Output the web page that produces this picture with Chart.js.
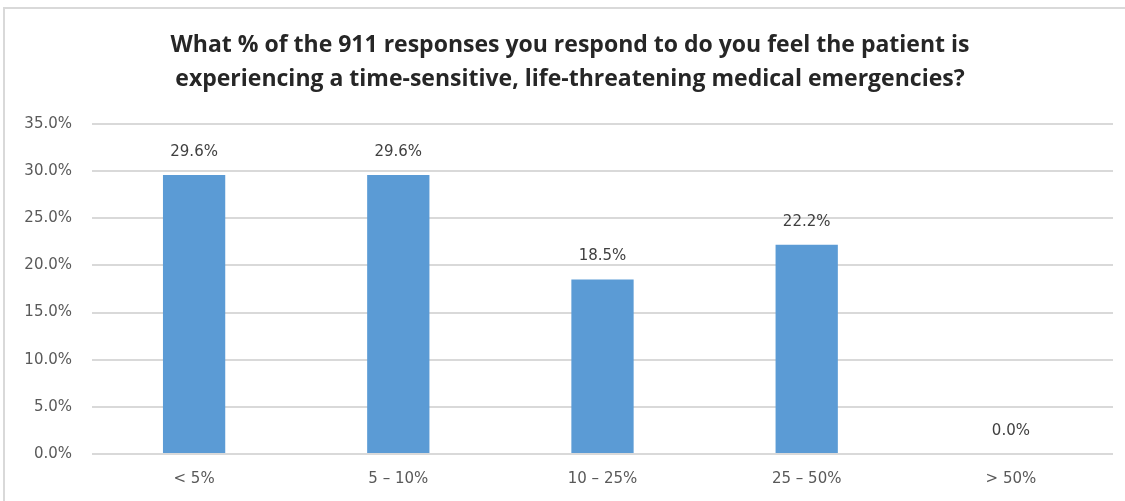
<!DOCTYPE html>
<html>
<head>
<meta charset="utf-8">
<script src="https://cdn.jsdelivr.net/npm/chart.js@4/dist/chart.umd.min.js"></script>
<style>
  html, body { margin: 0; padding: 0; background: #ffffff; }
  #wrap { position: relative; width: 1125px; height: 501px; }
</style>
</head>
<body>
<div id="wrap"><canvas id="chart" width="1125" height="501"></canvas></div>
<script>
const categories = ['< 5%', '5 \u2013 10%', '10 \u2013 25%', '25 \u2013 50%', '> 50%'];
const shares = [29.6, 29.6, 18.5, 22.2, 0.0];
const yTicks = [0, 5, 10, 15, 20, 25, 30, 35];
const titleLines = [
  'What % of the 911 responses you respond to do you feel the patient is',
  'experiencing a time-sensitive, life-threatening medical emergencies?'
];

const BAR_COLOR = '#5b9bd5';
const GRID_COLOR = '#d9d9d9';
const TEXT_COLOR = '#595959';
const FONT = '"DejaVu Sans", sans-serif';

// Frame line along the top and left edges of the chart box
const framePlugin = {
  id: 'frame',
  beforeDraw(chart) {
    const ctx = chart.ctx;
    ctx.save();
    ctx.strokeStyle = GRID_COLOR;
    ctx.lineWidth = 2;
    ctx.beginPath();
    ctx.moveTo(4, chart.height);
    ctx.lineTo(4, 8);
    ctx.lineTo(chart.width, 8);
    ctx.stroke();
    ctx.restore();
  }
};

// Two-line heading centred over the box
const headingPlugin = {
  id: 'heading',
  afterDraw(chart) {
    const ctx = chart.ctx;
    ctx.save();
    ctx.font = 'bold 23px "Open Sans", sans-serif';
    ctx.fillStyle = '#262626';
    ctx.textAlign = 'center';
    ctx.textBaseline = 'middle';
    titleLines.forEach((line, i) => ctx.fillText(line, 570, 45 + i * 34));
    ctx.restore();
  }
};

// Value labels above each bar
const valueLabels = {
  id: 'valueLabels',
  afterDatasetsDraw(chart) {
    const ctx = chart.ctx;
    const meta = chart.getDatasetMeta(0);
    const data = chart.data.datasets[0].data;
    ctx.save();
    ctx.font = '15px ' + FONT;
    ctx.fillStyle = '#404040';
    ctx.textAlign = 'center';
    ctx.textBaseline = 'middle';
    meta.data.forEach((bar, i) => {
      ctx.fillText(data[i].toFixed(1) + '%', bar.x, bar.y - 23);
    });
    ctx.restore();
  }
};

new Chart(document.getElementById('chart'), {
  type: 'bar',
  data: {
    labels: categories,
    datasets: [{
      data: shares,
      backgroundColor: BAR_COLOR,
      borderWidth: 0,
      categoryPercentage: 1.0,
      barPercentage: 0.305
    }]
  },
  options: {
    responsive: false,
    animation: false,
    devicePixelRatio: 1,
    layout: { padding: { left: 0, right: 12, top: 124, bottom: 0 } },
    plugins: {
      legend: { display: false },
      tooltip: { enabled: false },
      title: { display: false }
    },
    scales: {
      x: {
        grid: { display: false, drawTicks: false },
        border: { display: false },
        ticks: {
          color: TEXT_COLOR,
          font: { family: FONT, size: 15 },
          padding: 16
        },
        afterFit(scale) { scale.height = 47; }
      },
      y: {
        min: 0,
        max: 35,
        grid: { color: GRID_COLOR, lineWidth: 2, drawTicks: false },
        border: { display: false },
        afterBuildTicks(scale) { scale.ticks = yTicks.map(v => ({ value: v })); },
        ticks: {
          color: TEXT_COLOR,
          font: { family: FONT, size: 15 },
          padding: 20,
          callback: v => Number(v).toFixed(1) + '%'
        },
        afterFit(scale) { scale.width = 92; }
      }
    }
  },
  plugins: [framePlugin, headingPlugin, valueLabels]
});
</script>
</body>
</html>
